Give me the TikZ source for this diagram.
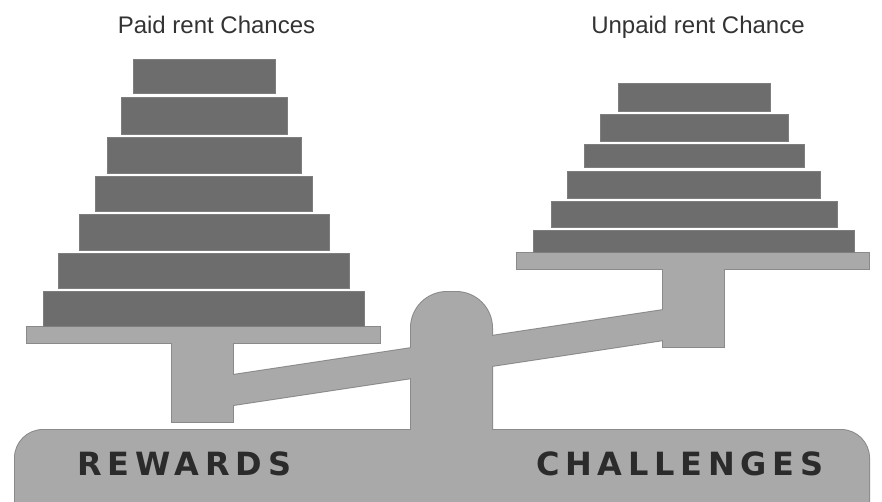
\documentclass[tikz,border=0pt]{standalone}
\usepackage{fontspec}
\setmainfont{Liberation Sans}
\newfontfamily\sidefont[LetterSpace=18.0]{DejaVu Sans}

\definecolor{bargray}{HTML}{6D6D6D}
\definecolor{baredge}{HTML}{7E7E7E}
\definecolor{partgray}{HTML}{A9A9A9}
\definecolor{partedge}{HTML}{8A8A8A}
\definecolor{titlegray}{HTML}{333333}
\definecolor{sidegray}{HTML}{2B2B2B}

% the light grey body of the balance, drawn twice (outline, then fill)
\newcommand{\balanceparts}[1]{
	\path[#1, rounded corners=28] (15,430) rectangle (869,540);
	\path[#1, rounded corners=36] (411,470) rectangle (492,292);
	\path[#1] (200,380) -- (700,304.5) -- (700,334.5) -- (200,410) -- cycle;
	\path[#1] (172,340) rectangle (233,422);
	\path[#1] (27,327) rectangle (380,343);
	\path[#1] (663,266) rectangle (724,347);
	\path[#1] (517,253) rectangle (869,269);
}

\begin{document}
\begin{tikzpicture}[x=1pt,y=-1pt,
	bar/.style={fill=bargray, draw=baredge, line width=0.8pt},
	partline/.style={draw=partedge, line width=2pt},
	partfill/.style={fill=partgray},
	title/.style={font=\fontsize{24}{28}\selectfont, text=titlegray, anchor=base, inner sep=0pt},
	side/.style={font=\sidefont\bfseries\fontsize{32}{36}\selectfont, text=sidegray, anchor=base west, inner sep=0pt}]

	\useasboundingbox (0,0) rectangle (882,501);
	\clip (0,0) rectangle (882,501);

	\balanceparts{partline}
	\balanceparts{partfill}

	% paid side
	\path[bar] (133,59) rectangle (275,93);
	\path[bar] (121,97) rectangle (287,134);
	\path[bar] (107,137) rectangle (301,173);
	\path[bar] (95,176) rectangle (312,211);
	\path[bar] (79,214) rectangle (329,250);
	\path[bar] (58,253) rectangle (349,288);
	\path[bar] (43,291) rectangle (364,326);

	% unpaid side
	\path[bar] (618,83) rectangle (770,111);
	\path[bar] (600,114) rectangle (788,141);
	\path[bar] (584,144) rectangle (804,167);
	\path[bar] (567,171) rectangle (820,198);
	\path[bar] (551,201) rectangle (837,227);
	\path[bar] (533,230) rectangle (854,252);

	\node[title] (paid) at (216.5,33) {Paid rent Chances};
	\node[title] (unpaid) at (698,33) {Unpaid rent Chance};

	\node[side] (rewards) at (77,475) {REWARDS};
	\node[side] (challenges) at (536,475) {CHALLENGES};
\end{tikzpicture}
\end{document}
